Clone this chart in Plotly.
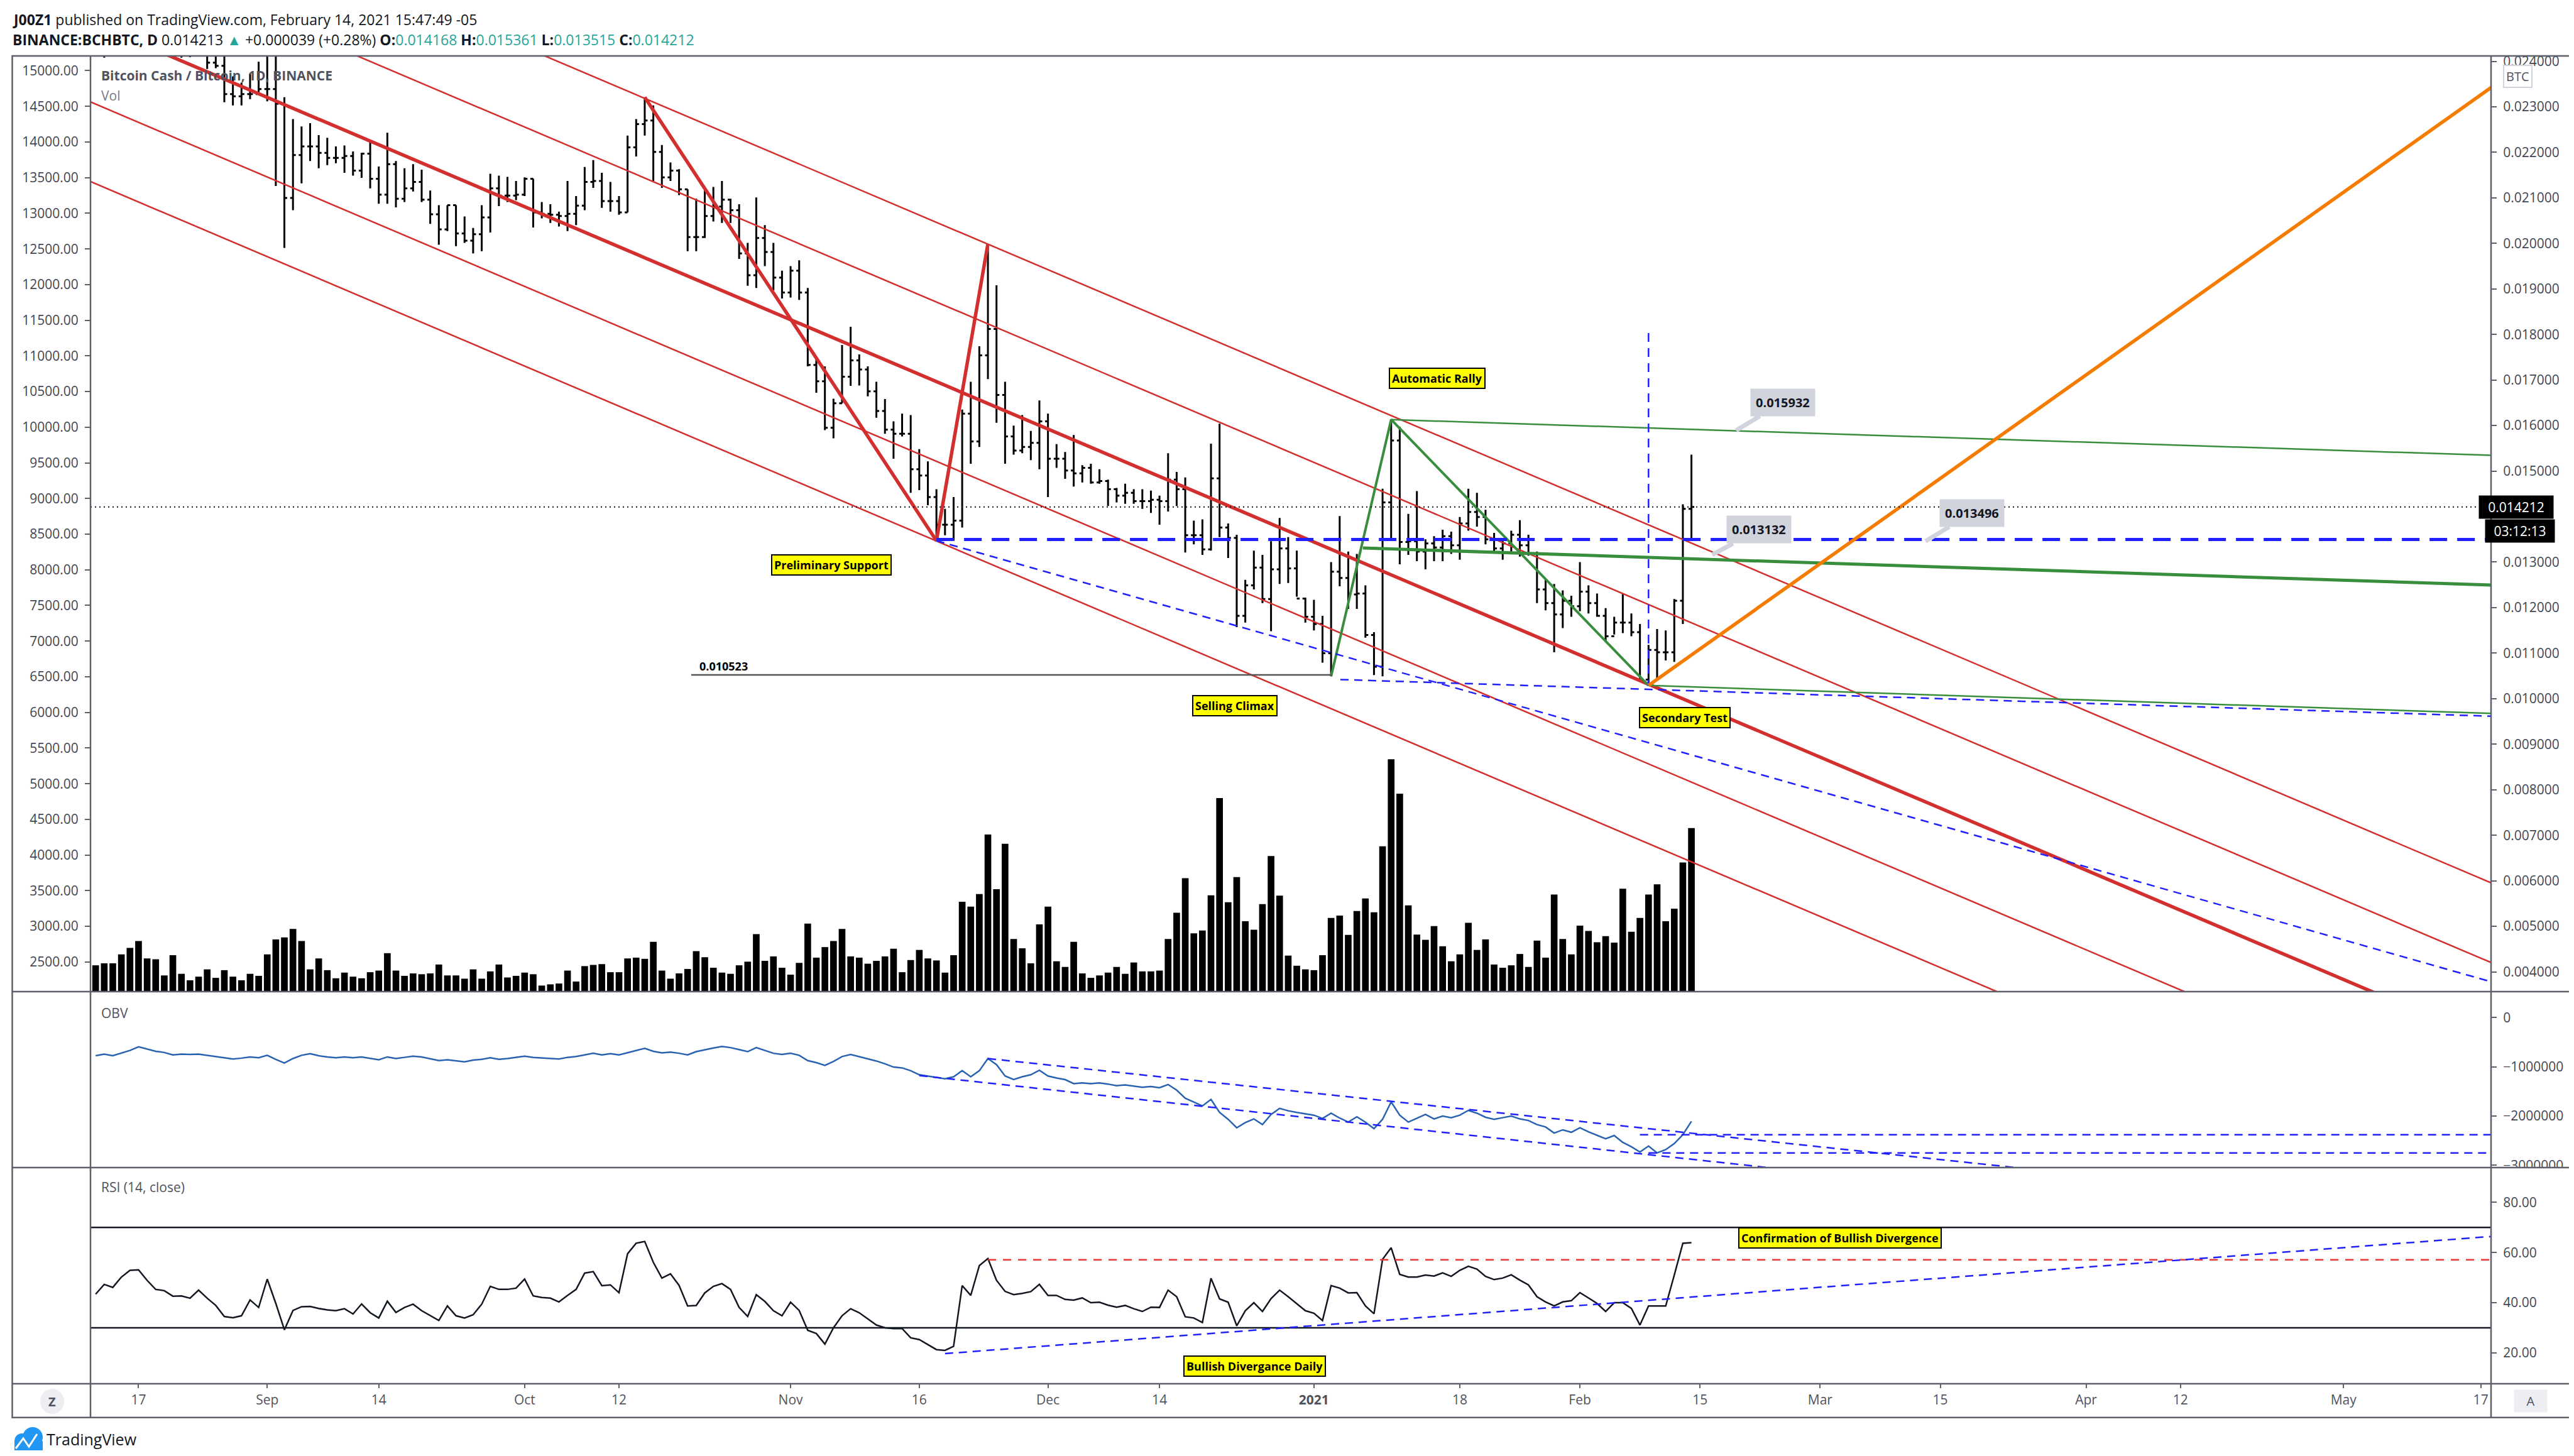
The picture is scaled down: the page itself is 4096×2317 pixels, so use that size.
import pandas as pd
import plotly.graph_objects as go

# ---------------- data ----------------
dates = pd.date_range("2020-08-12", "2021-02-14", freq="D")

open_ = [
    0.0254, 0.0250, 0.0245, 0.0252, 0.0255, 0.0251, 0.0249, 0.0253, 0.0250, 0.0247,
    0.0246, 0.0244, 0.0243, 0.0247, 0.02397, 0.02390, 0.02328, 0.02323, 0.02328, 0.02328,
    0.02339, 0.02339, 0.02307, 0.02100, 0.02194, 0.02213, 0.02213, 0.02199, 0.02188, 0.02188,
    0.02192, 0.02160, 0.02197, 0.02142, 0.02107, 0.02174, 0.02098, 0.02121, 0.02135, 0.02096,
    0.02064, 0.02031, 0.02084, 0.02022, 0.02006, 0.02020, 0.02057, 0.02121, 0.02105, 0.02105,
    0.02107, 0.02142, 0.02068, 0.02065, 0.02063, 0.02060, 0.02065, 0.02083, 0.02135, 0.02137,
    0.02093, 0.02093, 0.02068, 0.02211, 0.02262, 0.02270, 0.02201, 0.02145, 0.02160, 0.02119,
    0.02014, 0.02014, 0.02060, 0.02081, 0.02096, 0.02073, 0.01978, 0.01930, 0.02012, 0.01981,
    0.01925, 0.01892, 0.01940, 0.01892, 0.01733, 0.01697, 0.01595, 0.01649, 0.01707, 0.01743,
    0.01723, 0.01675, 0.01632, 0.01591, 0.01582, 0.01582, 0.01504, 0.01490, 0.01443, 0.01382,
    0.01382, 0.01391, 0.01626, 0.01565, 0.01754, 0.01812, 0.01667, 0.01576, 0.01545, 0.01553,
    0.01562, 0.01609, 0.01527, 0.01527, 0.01501, 0.01495, 0.01507, 0.01475, 0.01478, 0.01460,
    0.01446, 0.01452, 0.01434, 0.01434, 0.01437, 0.01434, 0.01481, 0.01460, 0.01359, 0.01359,
    0.01328, 0.01484, 0.01376, 0.01353, 0.01182, 0.01249, 0.01288, 0.01219, 0.01284, 0.01330,
    0.01286, 0.01220, 0.01180, 0.01164, 0.01100, 0.01279, 0.01265, 0.01229, 0.01231, 0.01140,
    0.01070, 0.01431, 0.01567, 0.01344, 0.01346, 0.01323, 0.01341, 0.01332, 0.01357, 0.01337,
    0.01385, 0.01410, 0.01399, 0.01350, 0.01330, 0.01341, 0.01360, 0.01337, 0.01318, 0.01240,
    0.01210, 0.01185, 0.01215, 0.01203, 0.01235, 0.01210, 0.01182, 0.01137, 0.01167, 0.01167,
    0.01146, 0.01042, 0.01107, 0.01102, 0.01102, 0.01215, 0.014168,
]
high = [
    0.0262, 0.0256, 0.0258, 0.0263, 0.0262, 0.0256, 0.0259, 0.0261, 0.0255, 0.0253,
    0.0252, 0.0250, 0.0251, 0.0250, 0.0249, 0.0246, 0.02367, 0.02353, 0.02372, 0.02399,
    0.0244, 0.0243, 0.02321, 0.02273, 0.02257, 0.02264, 0.02238, 0.02232, 0.02213, 0.02215,
    0.02202, 0.02199, 0.02224, 0.02169, 0.02243, 0.02181, 0.02165, 0.02174, 0.02162, 0.02116,
    0.02084, 0.02084, 0.02084, 0.02059, 0.02034, 0.02084, 0.02153, 0.02149, 0.02146, 0.02137,
    0.02145, 0.02142, 0.02091, 0.02086, 0.02070, 0.02137, 0.02104, 0.02168, 0.02183, 0.02155,
    0.02135, 0.02104, 0.02237, 0.02273, 0.02321, 0.02303, 0.02216, 0.02178, 0.02163, 0.02119,
    0.02098, 0.02117, 0.02124, 0.02137, 0.02098, 0.02086, 0.02001, 0.02101, 0.02040, 0.02001,
    0.01940, 0.01950, 0.01963, 0.01902, 0.01751, 0.01730, 0.01659, 0.01777, 0.01817, 0.01756,
    0.01730, 0.01696, 0.01658, 0.01609, 0.01626, 0.01623, 0.01548, 0.01521, 0.01460, 0.01417,
    0.01443, 0.01635, 0.01696, 0.01774, 0.01999, 0.01908, 0.01696, 0.01600, 0.01623, 0.01588,
    0.01655, 0.01626, 0.01559, 0.01542, 0.01579, 0.01513, 0.01516, 0.01504, 0.01481, 0.01463,
    0.01472, 0.01460, 0.01460, 0.01457, 0.01446, 0.01539, 0.01498, 0.01486, 0.01391, 0.01394,
    0.01560, 0.01604, 0.01385, 0.01360, 0.01261, 0.01325, 0.01316, 0.01346, 0.01397, 0.01355,
    0.01325, 0.01222, 0.01217, 0.01182, 0.01300, 0.01401, 0.01323, 0.01318, 0.01249, 0.01146,
    0.01461, 0.01613, 0.01597, 0.01406, 0.01456, 0.01350, 0.01357, 0.01371, 0.01367, 0.01399,
    0.01461, 0.01452, 0.01415, 0.01364, 0.01350, 0.01369, 0.01392, 0.01360, 0.01323, 0.01261,
    0.01252, 0.01238, 0.01226, 0.01300, 0.01249, 0.01231, 0.01199, 0.01180, 0.01231, 0.01187,
    0.01164, 0.01118, 0.01153, 0.01150, 0.01219, 0.01427, 0.015361,
]
low = [
    0.0246, 0.02408, 0.0243, 0.0247, 0.0248, 0.0244, 0.0245, 0.0246, 0.0243, 0.0242,
    0.02408, 0.02409, 0.0242, 0.02383, 0.02385, 0.02310, 0.02303, 0.02303, 0.02317, 0.02330,
    0.02312, 0.02126, 0.01990, 0.02073, 0.02132, 0.02181, 0.02165, 0.02172, 0.02176, 0.02155,
    0.02149, 0.02144, 0.02121, 0.02087, 0.02087, 0.02079, 0.02091, 0.02114, 0.02091, 0.02043,
    0.01997, 0.02027, 0.01994, 0.02001, 0.01978, 0.01983, 0.02024, 0.02082, 0.02091, 0.02095,
    0.02104, 0.02035, 0.02055, 0.02045, 0.02037, 0.02027, 0.02040, 0.02073, 0.02122, 0.02078,
    0.02070, 0.02063, 0.02068, 0.02191, 0.02237, 0.02137, 0.02122, 0.02137, 0.02106, 0.01983,
    0.01983, 0.02012, 0.02048, 0.02045, 0.02045, 0.01966, 0.01907, 0.01902, 0.01950, 0.01897,
    0.01879, 0.01881, 0.01876, 0.01730, 0.01672, 0.01590, 0.01572, 0.01649, 0.01687, 0.01688,
    0.01664, 0.01617, 0.01582, 0.01527, 0.01576, 0.01452, 0.01458, 0.01425, 0.01350, 0.01359,
    0.01347, 0.01376, 0.01516, 0.01553, 0.01702, 0.01606, 0.01516, 0.01536, 0.01539, 0.01524,
    0.01504, 0.01443, 0.01507, 0.01483, 0.01466, 0.01475, 0.01472, 0.01472, 0.01423, 0.01431,
    0.01428, 0.01428, 0.01417, 0.01408, 0.01382, 0.01411, 0.01423, 0.01321, 0.01339, 0.01316,
    0.01325, 0.01355, 0.01309, 0.01157, 0.01167, 0.01240, 0.01210, 0.01148, 0.01252, 0.01254,
    0.01224, 0.01167, 0.01150, 0.01079, 0.01049, 0.01247, 0.01197, 0.01197, 0.01134, 0.01052,
    0.01049, 0.01353, 0.01295, 0.01316, 0.01302, 0.01284, 0.01302, 0.01302, 0.01318, 0.01305,
    0.01369, 0.01378, 0.01339, 0.01323, 0.01305, 0.01323, 0.01312, 0.01314, 0.01210, 0.01194,
    0.01102, 0.01155, 0.01180, 0.01192, 0.01187, 0.01180, 0.01127, 0.01141, 0.01144, 0.01137,
    0.01038, 0.01029, 0.01044, 0.01084, 0.01081, 0.01164, 0.013515,
]
close = [
    0.0250, 0.0245, 0.0252, 0.0255, 0.0251, 0.0249, 0.0253, 0.0250, 0.0247, 0.0246,
    0.0244, 0.0243, 0.0247, 0.02397, 0.02390, 0.02328, 0.02323, 0.02328, 0.02328, 0.02339,
    0.02339, 0.02307, 0.02100, 0.02194, 0.02213, 0.02213, 0.02199, 0.02188, 0.02188, 0.02192,
    0.02160, 0.02197, 0.02142, 0.02107, 0.02174, 0.02098, 0.02121, 0.02135, 0.02096, 0.02064,
    0.02031, 0.02084, 0.02022, 0.02006, 0.02020, 0.02057, 0.02121, 0.02105, 0.02105, 0.02107,
    0.02142, 0.02068, 0.02065, 0.02063, 0.02060, 0.02065, 0.02083, 0.02135, 0.02137, 0.02093,
    0.02093, 0.02068, 0.02211, 0.02262, 0.02270, 0.02201, 0.02145, 0.02160, 0.02119, 0.02014,
    0.02014, 0.02060, 0.02081, 0.02096, 0.02073, 0.01978, 0.01930, 0.02012, 0.01981, 0.01925,
    0.01892, 0.01940, 0.01892, 0.01733, 0.01697, 0.01595, 0.01649, 0.01707, 0.01743, 0.01723,
    0.01675, 0.01632, 0.01591, 0.01582, 0.01582, 0.01504, 0.01490, 0.01443, 0.01382, 0.01382,
    0.01391, 0.01626, 0.01565, 0.01754, 0.01812, 0.01667, 0.01576, 0.01545, 0.01553, 0.01562,
    0.01609, 0.01527, 0.01527, 0.01501, 0.01495, 0.01507, 0.01475, 0.01478, 0.01460, 0.01446,
    0.01452, 0.01434, 0.01434, 0.01437, 0.01434, 0.01481, 0.01460, 0.01359, 0.01359, 0.01328,
    0.01484, 0.01376, 0.01353, 0.01182, 0.01249, 0.01288, 0.01219, 0.01284, 0.01330, 0.01286,
    0.01220, 0.01180, 0.01164, 0.01100, 0.01279, 0.01265, 0.01229, 0.01231, 0.01140, 0.01070,
    0.01431, 0.01567, 0.01344, 0.01346, 0.01323, 0.01341, 0.01332, 0.01357, 0.01337, 0.01385,
    0.01410, 0.01399, 0.01350, 0.01330, 0.01341, 0.01360, 0.01337, 0.01318, 0.01240, 0.01210,
    0.01185, 0.01215, 0.01203, 0.01235, 0.01210, 0.01182, 0.01137, 0.01167, 0.01167, 0.01146,
    0.01042, 0.01107, 0.01102, 0.01102, 0.01215, 0.014168, 0.014212,
]
# volume in hundreds of BCH
volume = [
    65, 70, 70, 92, 108, 125, 82, 80, 40, 90,
    44, 28, 37, 55, 34, 53, 37, 28, 44, 39,
    92, 129, 134, 155, 125, 55, 82, 53, 33, 47,
    37, 33, 48, 52, 95, 52, 39, 45, 43, 45,
    67, 40, 40, 32, 55, 32, 50, 67, 35, 39,
    47, 43, 15, 18, 20, 52, 25, 63, 66, 68,
    48, 48, 82, 84, 81, 123, 52, 32, 45, 56,
    100, 85, 59, 47, 44, 65, 74, 142, 76, 87,
    59, 42, 71, 168, 84, 110, 125, 155, 87, 84,
    69, 76, 87, 106,
    48, 78, 103, 82, 77, 47, 90, 222, 210, 241,
    388, 253, 365, 130, 107, 70, 166, 210, 75, 61,
    123, 45, 34, 40, 47, 61, 44, 72, 50, 50,
    52, 130, 195, 280, 144, 151, 238, 478, 221, 283,
    174, 153, 216, 335, 237, 89, 64, 55, 53, 90,
    182, 188, 140, 199, 230, 196, 359, 574, 489, 213,
    141, 128, 162, 112, 75, 92, 170, 103, 129, 67,
    59, 65, 93, 61, 126, 84, 240, 130, 92, 163,
    150, 122, 137, 121, 254, 148, 182, 240, 265, 174,
    205, 319, 404,
]
# OBV in thousands
obv = [
    -774, -741, -774, -724, -667, -593, -642, -683, -708, -757,
    -741, -749, -741, -765, -782, -807, -839, -823, -798, -815,
    -765, -848, -922, -831, -765, -732, -774, -798, -815, -798,
    -815, -798, -823, -856, -798, -831, -807, -782, -798, -831,
    -872, -856, -881, -897, -864, -848, -815, -848, -831, -807,
    -782, -807, -815, -823, -839, -807, -790, -757, -724, -757,
    -732, -757, -708, -667, -625, -683, -716, -700, -724, -757,
    -691, -650, -617, -584, -609, -650, -691, -609, -667, -724,
    -749, -724, -765, -872, -914, -971, -889, -790, -749, -790,
    -839, -881, -938, -1004,
    -1021, -1078, -1160, -1185, -1218, -1243, -1202, -1078, -1202, -1078,
    -831, -955, -1185, -1259, -1202, -1160, -1070, -1185, -1226, -1259,
    -1341, -1325, -1341, -1325, -1350, -1383, -1366, -1391, -1416, -1399,
    -1424, -1358, -1473, -1638, -1720, -1794, -1662, -1926, -2066, -2239,
    -2132, -2058, -2173, -1967, -1844, -1893, -1926, -1959, -1983, -2049,
    -1942, -2041, -2123, -2016, -2123, -2255, -2066, -1712, -1983, -2123,
    -2049, -1967, -2058, -2000, -2033, -1983, -1885, -1942, -2025, -2066,
    -2033, -2000, -2058, -2090, -2173, -2222, -2346, -2280, -2329, -2239,
    -2321, -2387, -2461, -2395, -2535, -2625, -2732, -2609, -2749, -2683,
    -2560, -2378, -2107,
]
rsi = [
    43.4, 47.3, 46.1, 50.2, 52.9, 53.1, 48.9, 45.3, 44.8, 42.6,
    42.7, 41.8, 45.0, 41.8, 38.9, 34.5, 34.0, 34.8, 41.1, 38.1,
    49.4, 39.7, 29.2, 36.9, 38.4, 38.5, 37.7, 37.1, 36.8, 37.6,
    35.5, 39.5, 36.0, 33.9, 40.6, 36.1, 38.1, 39.4, 36.8, 34.8,
    32.9, 38.7, 34.8, 33.9, 35.2, 39.4, 46.5, 45.3, 45.3, 45.8,
    49.4, 42.7, 42.1, 41.8, 40.3, 42.9, 45.3, 51.8, 52.4, 46.8,
    47.1, 44.0, 59.5, 63.7, 64.4, 56.1, 49.8, 51.5, 46.9, 38.7,
    38.9, 43.9, 46.5, 47.6, 45.3, 38.1, 34.5, 43.2, 40.5, 36.8,
    34.8, 40.2, 36.9, 29.0, 27.7, 23.5, 30.0, 34.8, 37.6, 36.0,
    33.5, 31.1, 30.0, 29.7,
    29.7, 26.0, 25.3, 23.2, 21.3, 21.0, 22.6, 46.8, 42.9, 54.8,
    57.6, 48.9, 44.5, 43.2, 43.7, 44.4, 47.3, 42.9, 42.9, 41.3,
    41.0, 41.9, 40.0, 40.2, 39.0, 38.2, 38.9, 37.6, 36.5, 38.2,
    38.1, 45.0, 42.4, 34.4, 33.9, 32.1, 49.7, 41.5, 40.2, 30.8,
    36.8, 40.0, 36.5, 41.6, 45.0, 42.4, 39.7, 36.8, 35.8, 32.9,
    46.8, 45.8, 43.9, 44.0, 38.7, 35.6, 57.3, 61.9, 51.3, 50.2,
    50.2, 51.0, 50.6, 51.9, 50.5, 52.9, 54.5, 53.4, 50.5, 49.2,
    49.8, 51.1, 49.0, 47.1, 42.4, 40.3, 38.7, 40.3, 40.8, 44.0,
    41.9, 39.7, 36.5, 40.0, 40.0, 37.7, 31.1, 38.7, 38.7, 38.7,
    51.0, 63.7, 63.9,
]
for name, arr in [("open", open_), ("high", high), ("low", low), ("close", close),
                  ("volume", volume), ("obv", obv), ("rsi", rsi)]:
    assert len(arr) == len(dates), (name, len(arr), len(dates))

# drawings (date, price) endpoints
channel_x = ["2020-08-10", "2021-05-20"]
channel_mid = [0.02497, 0.00231]
channel_step = 0.00175
red_v_x = ["2020-10-15", "2020-11-18", "2020-11-24"]
red_v_y = [0.02321, 0.01347, 0.01999]
green_tri_x = ["2021-01-03", "2021-01-10", "2021-02-09"]
green_tri_y = [0.01049, 0.01613, 0.01029]
right_end = "2021-05-19"
green_top_y = [0.01613, 0.01534]
green_low_y = [0.01029, 0.00967]
green_mid_x = ["2021-01-06 17:00", right_end]
green_mid_y = [0.01331, 0.01249]
orange_y = [0.01029, 0.02353]
support_level = 0.013496
blue_slope_y = [0.01347, 0.00374]
blue_flat_x = ["2021-01-04 02:00", right_end]
blue_flat_y = [0.01042, 0.00961]
blue_vert_y = [0.01803, 0.01029]
sc_level = 0.010523
sc_x = ["2020-10-20 10:00", "2021-01-03 02:00"]
last_price = 0.014212
obv_up = (["2020-11-24", right_end], [-831, -4087])
obv_dn = (["2020-11-16", right_end], [-1177, -4655])
obv_h1 = (["2021-02-08", right_end], [-2378, -2378])
obv_h2 = (["2021-02-09", right_end], [-2749, -2749])
rsi_red = (["2020-11-24", right_end], [57.1, 57.1])
rsi_blue = (["2020-11-19", right_end], [19.7, 66.6])

# ---------------- styling ----------------
W, H = 4096, 2317
L_M, R_M, T_M, B_M = 136, 140, 81, 123
FONT = "Open Sans"
FRAME = "#5d606b"
AXT = "#434651"
RED, GREEN, BLUE, ORANGE = "#d32f2f", "#388e3c", "#2020ff", "#f57c00"
TEAL = "#26a69a"
X_RANGE = ["2020-08-11 09:36", "2021-05-18 04:48"]


def px(x):
    return (x - L_M) / (W - L_M - R_M)


def py(y):
    return (H - B_M - y) / (H - T_M - B_M)


fig = go.Figure()

fig.add_trace(go.Bar(x=dates, y=volume, yaxis="y", marker=dict(color="black", line=dict(width=0)),
                     width=0.78 * 86400000, hoverinfo="skip"))
fig.add_trace(go.Ohlc(x=dates, open=open_, high=high, low=low, close=close, yaxis="y2",
                      increasing=dict(line=dict(color="black", width=3)),
                      decreasing=dict(line=dict(color="black", width=3)),
                      tickwidth=0.33, hoverinfo="skip"))


def add_line(xs, ys, color, width, dash="solid", yaxis="y2"):
    fig.add_trace(go.Scatter(x=xs, y=ys, mode="lines", yaxis=yaxis, hoverinfo="skip",
                             line=dict(color=color, width=width, dash=dash)))


# red parallel channel
for m in (-2, -1, 0, 1, 2):
    add_line(channel_x, [v - m * channel_step for v in channel_mid], RED, 5.5 if m == 0 else 2.5)
add_line(red_v_x, red_v_y, RED, 5.5)

# green structure
add_line(green_tri_x, green_tri_y, GREEN, 4)
add_line([green_tri_x[1], right_end], green_top_y, GREEN, 2.5)
add_line([green_tri_x[2], right_end], green_low_y, GREEN, 2.5)
add_line(green_mid_x, green_mid_y, GREEN, 5)

# blue dashed
add_line(["2020-11-18", right_end], [support_level, support_level], BLUE, 5, "28px,16px")
add_line(["2020-11-18", right_end], blue_slope_y, BLUE, 2.5, "13px,9px")
add_line(blue_flat_x, blue_flat_y, BLUE, 2.5, "13px,9px")
add_line(["2021-02-09", "2021-02-09"], blue_vert_y, BLUE, 2.5, "14px,10px")

# selling climax level
add_line(sc_x, [sc_level, sc_level], "#555555", 2.5)

# orange projection
add_line(["2021-02-09", right_end], orange_y, ORANGE, 5.5)

# last price dotted line
add_line([X_RANGE[0], right_end], [last_price, last_price], "#131722", 2, "2px,5px")

# OBV pane
fig.add_trace(go.Scatter(x=dates, y=obv, mode="lines", yaxis="y4", hoverinfo="skip",
                         line=dict(color="#2862b0", width=2.5)))
for xs, ys in (obv_up, obv_dn, obv_h1, obv_h2):
    add_line(xs, ys, BLUE, 2.5, "13px,9px", "y4")

# RSI pane
add_line([X_RANGE[0], right_end], [70, 70], "#131722", 2.5, "solid", "y5")
add_line([X_RANGE[0], right_end], [30, 30], "#131722", 2.5, "solid", "y5")
fig.add_trace(go.Scatter(x=dates, y=rsi, mode="lines", yaxis="y5", hoverinfo="skip",
                         line=dict(color="#131722", width=2.5)))
add_line(rsi_red[0], rsi_red[1], "#e53935", 2.5, "13px,11px", "y5")
add_line(rsi_blue[0], rsi_blue[1], BLUE, 2.5, "13px,9px", "y5")

# ---------------- axes ----------------
tick_dates = ["2020-08-17", "2020-09-01", "2020-09-14", "2020-10-01", "2020-10-12", "2020-11-01",
              "2020-11-16", "2020-12-01", "2020-12-14", "2021-01-01", "2021-01-18", "2021-02-01",
              "2021-02-15", "2021-03-01", "2021-03-15", "2021-04-01", "2021-04-12", "2021-05-01",
              "2021-05-17"]
tick_text = ["17", "Sep", "14", "Oct", "12", "Nov", "16", "Dec", "14", "<b>2021</b>", "18", "Feb",
             "15", "Mar", "15", "Apr", "12", "May", "17"]
# 0.014 is hidden behind the last-price label in the original
price_ticks = [0.004 + 0.001 * i for i in range(21) if i != 10]
left_ticks = [2500 + 500 * i for i in range(26)]

axis_common = dict(showgrid=False, zeroline=False, showline=False, fixedrange=True,
                   ticks="outside", ticklen=8, tickcolor=FRAME, tickwidth=2,
                   tickfont=dict(family=FONT, size=21, color=AXT))

fig.update_layout(
    width=W, height=H, margin=dict(l=L_M, r=R_M, t=T_M, b=B_M),
    paper_bgcolor="white", plot_bgcolor="white", showlegend=False, hovermode=False,
    xaxis=dict(type="date", range=X_RANGE, anchor="y5", tickvals=tick_dates, ticktext=tick_text,
               rangeslider=dict(visible=False), ticklabelstandoff=1,
               **{**axis_common, "ticklen": 6, "tickfont": dict(family=FONT, size=21, color="#50535e")}),
    yaxis=dict(domain=[0.2953, 1], range=[0, 2311], visible=False, anchor="x", fixedrange=True),
    yaxis2=dict(overlaying="y", side="right", anchor="x", range=[0.003565, 0.024118],
                tickvals=price_ticks, tickformat=".6f", ticklabelstandoff=6, **axis_common),
    yaxis3=dict(overlaying="y", side="left", anchor="x", range=[2084, 15207],
                tickvals=left_ticks, tickformat=".2f", ticklabelstandoff=6, **axis_common),
    yaxis4=dict(domain=[0.1628, 0.2953], side="right", anchor="x", range=[-3047, 529],
                tickvals=[0, -1000, -2000, -3000],
                ticktext=["0", "\u22121000000", "\u22122000000", "\u22123000000"],
                ticklabelstandoff=6, **axis_common),
    yaxis5=dict(domain=[0, 0.1628], side="right", anchor="x", range=[7.7, 93.85],
                tickvals=[20, 40, 60, 80], ticktext=["20.00", "40.00", "60.00", "80.00"],
                ticklabelstandoff=6, **axis_common),
)
# dummy trace so the left scale is drawn
fig.add_trace(go.Scatter(x=[dates[0]], y=[None], yaxis="y3", mode="markers", hoverinfo="skip"))

# ---------------- frame ----------------
shapes = []
shapes.append(dict(type="rect", xref="paper", yref="paper", x0=1.0015, x1=px(4080),
                   y0=py(1864), y1=py(1851), fillcolor="white", line=dict(width=0), layer="above"))
line_style = dict(color=FRAME, width=2.5)
shapes.append(dict(type="rect", xref="paper", yref="paper", x0=px(11.5), x1=px(4083),
                   y0=py(2247.7), y1=1, line=line_style, layer="above"))
for xv in (0, 1):
    shapes.append(dict(type="line", xref="paper", yref="paper", x0=xv, x1=xv,
                       y0=py(2247.7), y1=1, line=line_style, layer="above"))
for yv in (0.2953, 0.1628, 0):
    shapes.append(dict(type="line", xref="paper", yref="paper", x0=px(11.5), x1=px(4083),
                       y0=yv, y1=yv, line=line_style, layer="above"))
# Z button
shapes.append(dict(type="circle", xref="paper", yref="paper", x0=px(56), x1=px(94),
                   y0=py(2242), y1=py(2202), fillcolor="#eceef2", line=dict(width=0), layer="above"))
# TradingView logo (rough cloud)
for cx, cy, r in ((27, 2285, 12), (44, 2279, 16)):
    shapes.append(dict(type="circle", xref="paper", yref="paper", x0=px(cx - r), x1=px(cx + r),
                       y0=py(cy + r), y1=py(cy - r), fillcolor="#2196f3", line=dict(width=0)))
shapes.append(dict(type="rect", xref="paper", yref="paper", x0=px(15), x1=px(60),
                   y0=py(2300), y1=py(2285), fillcolor="#2196f3", line=dict(width=0)))
shapes.append(dict(type="path", xref="paper", yref="paper",
                   path=f"M {px(17)},{py(2297)} L {px(29)},{py(2281)} L {px(38)},{py(2294)} L {px(51)},{py(2274)}",
                   line=dict(color="white", width=3)))
fig.update_layout(shapes=shapes)

# ---------------- text ----------------
ann = []


def text(t, x, y, xref="paper", yref="paper", size=21, color="#131722", xanchor="left", **kw):
    ann.append(dict(text=t, x=x, y=y, xref=xref, yref=yref, showarrow=False, xanchor=xanchor,
                    yanchor="middle", font=dict(family=FONT, size=size, color=color), **kw))


text("<b>J00Z1</b> published on TradingView.com, February 14, 2021 15:47:49 -05", px(10), py(23), size=23)
text(f"<b>BINANCE:BCHBTC, D</b> 0.014213 <span style='color:{TEAL}'>\u25b2</span> +0.000039 (+0.28%) "
     f"<b>O:</b><span style='color:{TEAL}'>0.014168</span> <b>H:</b><span style='color:{TEAL}'>0.015361</span> "
     f"<b>L:</b><span style='color:{TEAL}'>0.013515</span> <b>C:</b><span style='color:{TEAL}'>0.014212</span>",
     px(10), py(55), size=23)
text("<b>Bitcoin Cash / Bitcoin, 1D, BINANCE</b>", px(151), py(112), color="#50535e")
text("Vol", px(151), py(144), color="#787b86")
text("OBV", px(151), py(1604), color="#50535e")
text("RSI (14, close)", px(151), py(1881), color="#50535e")
text("TradingView", px(64), py(2282), size=25, color="#131722")
text("<b>Z</b>", px(75), py(2222), size=20, color="#50535e", xanchor="center")
text("A", px(4019), py(2221), size=20, color="#50535e", xanchor="center",
     bgcolor="#eceef2", borderpad=4, width=44)
text("BTC", px(3998), py(113), size=20, color="#50535e", xanchor="center",
     bgcolor="white", bordercolor="#d1d4dc", borderwidth=2, borderpad=3)
text("0.014212", px(3996), last_price, yref="y2", size=21, color="white", xanchor="center",
     bgcolor="black", borderpad=3, width=112, height=30)
text("03:12:13", px(4002), py(837), size=21, color="white", xanchor="center",
     bgcolor="black", borderpad=3, width=104, height=30)

# yellow Wyckoff labels
yellow = dict(bgcolor="#ffff00", bordercolor="black", borderwidth=2, borderpad=3)
text("<b>Preliminary Support</b>", "2020-11-05 19:00", 0.01294, "x", "y2", 18, "black", "center", **yellow)
text("<b>Automatic Rally</b>", "2021-01-15 08:00", 0.017034, "x", "y2", 18, "black", "center", **yellow)
text("<b>Selling Climax</b>", "2020-12-22 19:00", 0.009842, "x", "y2", 18, "black", "center", **yellow)
text("<b>Secondary Test</b>", "2021-02-13 05:00", 0.009589, "x", "y2", 18, "black", "center", **yellow)
text("<b>Bullish Divergance Daily</b>", "2020-12-25 02:00", 14.75, "x", "y5", 18, "black", "center", **yellow)
text("<b>Confirmation of Bullish Divergence</b>", "2021-03-03 07:00", 65.9, "x", "y5", 18, "black",
     "center", **yellow)
text("<b>0.010523</b>", "2020-10-24 05:00", 0.01071, "x", "y2", 18, "black", "center")

# price callouts
for label, xd, yp, dy in (("0.015932", "2021-02-19 05:00", 0.01589, -45),
                          ("0.013132", "2021-02-16 10:00", 0.01316, -40),
                          ("0.013496", "2021-03-13 07:00", 0.01346, -45)):
    ann.append(dict(text=f"<b>{label}</b>", x=xd, y=yp, xref="x", yref="y2", showarrow=True,
                    ax=74, ay=dy, arrowhead=0, arrowwidth=7, arrowcolor="#d1d4dc", standoff=0,
                    bgcolor="#d1d4dc", borderpad=8, font=dict(family=FONT, size=20, color="#131722")))

fig.update_layout(annotations=ann)

fig.write_html("out.html")
